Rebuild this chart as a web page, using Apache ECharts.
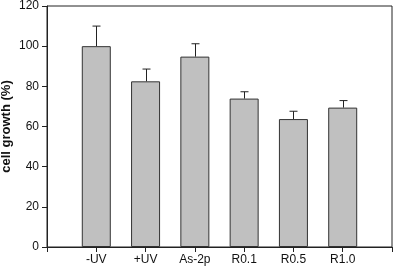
<!DOCTYPE html>
<html>
<head>
<meta charset="utf-8">
<script src="https://cdn.jsdelivr.net/npm/echarts@6/dist/echarts.min.js"></script>
<style>
  html, body { margin: 0; padding: 0; background: #fff; }
  #chart { width: 394px; height: 268px; }
</style>
</head>
<body>
<div id="chart"></div>
<script>
// empty slots at both ends keep the bars off the frame
const categories = ['', '-UV', '+UV', 'As-2p', 'R0.1', 'R0.5', 'R1.0', '']
const growth = [null, 100, 82.5, 94.8, 73.9, 63.7, 69.4, null]
const errorTop = [null, 110, 88.6, 101.2, 77.3, 67.6, 72.9, null]
const yTicks = [0, 20, 40, 60, 80, 100, 120]

const chart = echarts.init(document.getElementById('chart'))

const errorData = growth
  .map((v, i) => (v == null ? null : [i, v, errorTop[i]]))
  .filter(Boolean)

chart.setOption({
  animation: false,
  textStyle: { fontFamily: 'Liberation Sans, Arial, sans-serif' },
  grid: {
    left: 47,
    right: 2,
    top: 6,
    bottom: 21,
    outerBoundsMode: 'none',
    containLabel: false,
    show: true,
    borderColor: '#222',
    borderWidth: 1,
    backgroundColor: 'transparent',
  },
  xAxis: {
    type: 'category',
    data: categories,
    boundaryGap: false,
    axisLine: { onZero: false, lineStyle: { color: '#222', width: 1 } },
    axisTick: { show: true, inside: false, length: 5, interval: 0, lineStyle: { color: '#222', width: 1 } },
    axisLabel: { color: '#111', fontSize: 12, margin: 7, interval: 0 },
    splitLine: { show: false },
  },
  yAxis: {
    type: 'value',
    min: yTicks[0],
    max: yTicks[yTicks.length - 1],
    interval: 20,
    name: 'cell growth (%)',
    nameLocation: 'middle',
    nameGap: 34,
    nameMoveOverlap: false,
    nameTextStyle: { fontWeight: 'bold', fontSize: 13, color: '#111' },
    axisLine: { show: true, onZero: false, lineStyle: { color: '#222', width: 1 } },
    axisTick: { show: true, length: 5, lineStyle: { color: '#222' } },
    axisLabel: { color: '#111', fontSize: 12, margin: 8 },
    splitLine: { show: false },
  },
  series: [
    {
      type: 'bar',
      data: growth,
      barWidth: 29,
      itemStyle: { color: '#c0c0c0', borderColor: '#333', borderWidth: 1 },
      z: 2,
    },
    {
      type: 'custom',
      data: errorData,
      z: 3,
      renderItem(params, api) {
        const top = api.coord([api.value(0), api.value(2)])
        const base = api.coord([api.value(0), api.value(1)])
        const x = Math.round(top[0]) + 0.5
        return {
          type: 'group',
          children: [
            { type: 'line', shape: { x1: x, y1: top[1], x2: x, y2: base[1] }, style: { stroke: '#222', lineWidth: 1 } },
            { type: 'line', shape: { x1: x - 4, y1: top[1], x2: x + 4, y2: top[1] }, style: { stroke: '#222', lineWidth: 1 } },
          ],
        }
      },
    },
  ],
})
</script>
</body>
</html>
